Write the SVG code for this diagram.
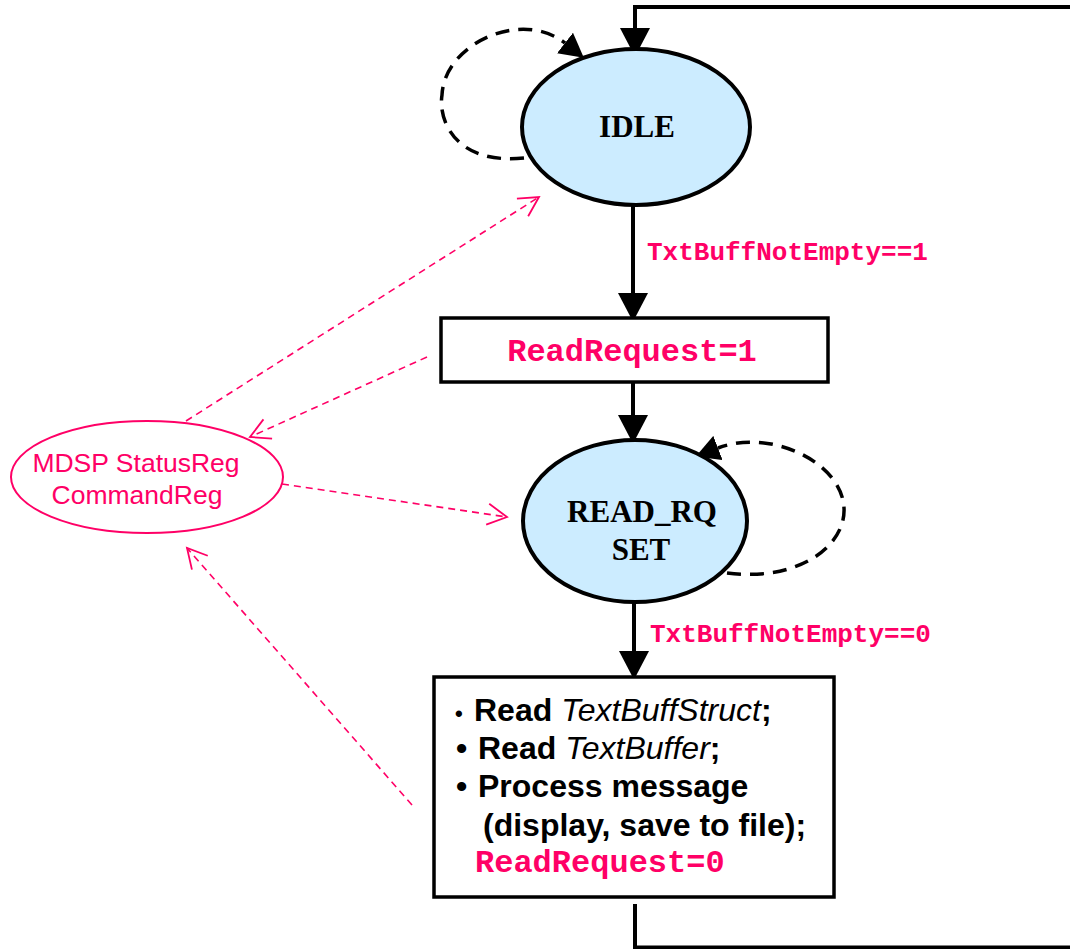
<svg xmlns="http://www.w3.org/2000/svg" width="1070" height="949" viewBox="0 0 1070 949">
<style>
.state{fill:#CCECFF;stroke:#000;stroke-width:4}
.box{fill:#fff;stroke:#000;stroke-width:3.5}
.stitle{font-family:"Liberation Serif","Times New Roman",serif;font-weight:bold;font-size:31px;fill:#000;text-anchor:middle}
.code{font-family:"Liberation Mono","Courier New",monospace;font-weight:bold;fill:#FF0066}
.body{font-family:"Liberation Sans",Arial,sans-serif;font-weight:bold;font-size:32px;fill:#000}
.it{font-weight:normal;font-style:italic}
.reg{font-family:"Liberation Sans",Arial,sans-serif;font-size:26.5px;fill:#FF0066;text-anchor:middle}
.solid{fill:none;stroke:#000;stroke-width:4}
.loop{fill:none;stroke:#000;stroke-width:3.5;stroke-dasharray:14 9}
.pink{fill:none;stroke:#FF0066;stroke-width:1.6;stroke-dasharray:7 5}
</style>
<defs>
<marker id="ah" markerUnits="userSpaceOnUse" markerWidth="30" markerHeight="30" refX="0" refY="13" orient="auto" viewBox="0 0 26 26">
<path d="M0,0 L25,13 L0,26 Z" fill="#000"/>
</marker>
<marker id="ahl" markerUnits="userSpaceOnUse" markerWidth="26" markerHeight="26" refX="0" refY="12" orient="auto" viewBox="0 0 24 24">
<path d="M0,0 L22,12 L0,24 Z" fill="#000"/>
</marker>
<marker id="open" markerUnits="userSpaceOnUse" markerWidth="24" markerHeight="26" refX="21" refY="11.5" orient="auto" viewBox="0 0 24 23">
<path d="M1.5,1 L21,11.5 L1.5,22" fill="none" stroke="#FF0066" stroke-width="1.8"/>
</marker>
</defs>

<g id="connectors">
<polyline class="solid" points="1070,7 635,7 635,28" marker-end="url(#ah)"/>
<line class="solid" x1="633" y1="205" x2="633" y2="293" marker-end="url(#ah)"/>
<line class="solid" x1="633" y1="382" x2="633" y2="415" marker-end="url(#ah)"/>
<line class="solid" x1="634" y1="602" x2="634" y2="651" marker-end="url(#ah)"/>
<polyline class="solid" points="635,904 635,947.5 1070,947.5"/>
<path class="loop" d="M524,158 C455,165 438,120 442,95 C444,45 520,8 565,43" marker-end="url(#ahl)"/>
<path class="loop" d="M727,573 C800,582 846,545 844,508 C842,462 770,428 718,448" marker-end="url(#ahl)"/>
<line class="pink" x1="186" y1="421" x2="539" y2="197" marker-end="url(#open)"/>
<line class="pink" x1="427" y1="357" x2="250" y2="437" marker-end="url(#open)"/>
<line class="pink" x1="282" y1="484" x2="507" y2="517" marker-end="url(#open)"/>
<line class="pink" x1="412" y1="805" x2="187" y2="548" marker-end="url(#open)"/>
<text class="code" x="647" y="260" font-size="26">TxtBuffNotEmpty==1</text>
<text class="code" x="650" y="642" font-size="26">TxtBuffNotEmpty==0</text>
</g>

<g id="idle">
<ellipse class="state" cx="636" cy="127" rx="114" ry="78"/>
<text class="stitle" x="637" y="137">IDLE</text>
</g>

<g id="readreq1">
<rect class="box" x="441" y="318" width="387" height="64"/>
<text class="code" x="632" y="361" font-size="32" text-anchor="middle">ReadRequest=1</text>
</g>

<g id="readrqset">
<ellipse class="state" cx="635" cy="521" rx="112" ry="81"/>
<text class="stitle" x="642" y="522">READ_RQ</text>
<text class="stitle" x="641" y="560">SET</text>
</g>

<g id="process">
<rect class="box" x="434" y="677" width="400" height="220"/>
<text class="body" y="721"><tspan x="455" font-size="22">•</tspan><tspan x="474">Read </tspan><tspan class="it">TextBuffStruct</tspan><tspan>;</tspan></text>
<text class="body" y="759"><tspan x="456">•</tspan><tspan x="478">Read </tspan><tspan class="it">TextBuffer</tspan><tspan>;</tspan></text>
<text class="body" y="797"><tspan x="456">•</tspan><tspan x="478">Process message</tspan></text>
<text class="body" x="483" y="836">(display, save to file);</text>
<text class="code" x="475" y="872" font-size="32">ReadRequest=0</text>
</g>

<g id="mdsp">
<ellipse cx="147" cy="477" rx="136" ry="56" fill="#fff" stroke="#FF0066" stroke-width="2"/>
<text class="reg" x="136" y="472">MDSP StatusReg</text>
<text class="reg" x="137" y="504">CommandReg</text>
</g>
</svg>
